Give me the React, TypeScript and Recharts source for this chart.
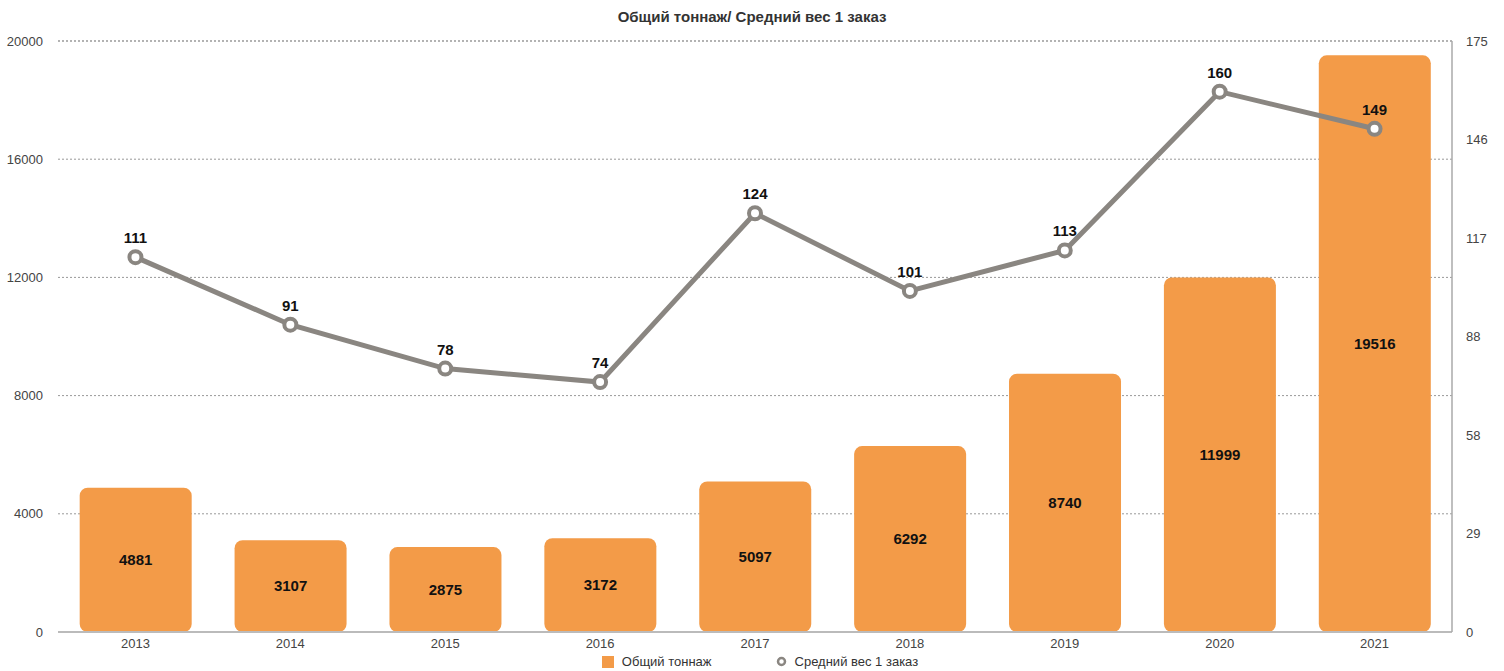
import { Bar, CartesianGrid, ComposedChart, LabelList, Legend, Line, ReferenceLine, XAxis, YAxis } from 'recharts';

const years = ['2013', '2014', '2015', '2016', '2017', '2018', '2019', '2020', '2021'];
const totalTonnage = [4881, 3107, 2875, 3172, 5097, 6292, 8740, 11999, 19516];
const avgOrderWeight = [111, 91, 78, 74, 124, 101, 113, 160, 149];
const leftTicks = [0, 4000, 8000, 12000, 16000, 20000];
const rightTicks = [0, 29.17, 58.33, 87.5, 116.67, 145.83, 175];

const TONNAGE_NAME = 'Общий тоннаж';
const WEIGHT_NAME = 'Средний вес 1 заказ';
const ORANGE = '#F39B48';
const GRAY = '#8A8681';
const FONT = 'Liberation Sans, Arial, sans-serif';

const data = years.map((year, i) => ({
  year,
  tonnage: totalTonnage[i],
  weight: avgOrderWeight[i],
}));

const AXIS_TICK = { fill: '#444', fontSize: 13, fontFamily: FONT };

function ChartLegend() {
  return (
    <div
      style={{
        height: 19,
        display: 'flex',
        justifyContent: 'center',
        alignItems: 'center',
        gap: 64,
        fontSize: 13,
        color: '#333',
        fontFamily: FONT,
        paddingLeft: 16,
      }}
    >
      <span style={{ display: 'flex', alignItems: 'center', gap: 8 }}>
        <span style={{ width: 12, height: 12, background: ORANGE, display: 'inline-block' }} />
        {TONNAGE_NAME}
      </span>
      <span style={{ display: 'flex', alignItems: 'center', gap: 8 }}>
        <svg width={11} height={11}>
          <circle cx={5.5} cy={5.5} r={3.5} fill="#fff" stroke={GRAY} strokeWidth={2.5} />
        </svg>
        {WEIGHT_NAME}
      </span>
    </div>
  );
}

export default function App() {
  return (
    <div style={{ position: 'fixed', top: 0, left: 0, width: 1504, height: 671, background: '#fff' }}>
      <div
        style={{
          position: 'absolute',
          top: 8,
          left: 0,
          width: 1504,
          textAlign: 'center',
          fontSize: 15,
          fontWeight: 'bold',
          color: '#333',
          fontFamily: FONT,
        }}
      >
        Общий тоннаж/ Средний вес 1 заказ
      </div>
      <ComposedChart
        width={1504}
        height={671}
        data={data}
        margin={{ top: 41, right: 0, bottom: 0, left: 0 }}
        barCategoryGap="14%"
      >
        <CartesianGrid vertical={false} stroke="#999" strokeDasharray="2 2" yAxisId="left" />
        <XAxis
          dataKey="year"
          height={20}
          tick={AXIS_TICK}
          tickLine={false}
          axisLine={{ stroke: '#bbb', strokeWidth: 2 }}
          tickSize={0}
          tickMargin={7}
        />
        <YAxis
          yAxisId="left"
          width={58}
          domain={[0, 20000]}
          ticks={leftTicks}
          tick={AXIS_TICK}
          tickLine={false}
          axisLine={false}
          tickSize={0}
          tickMargin={15}
        />
        <YAxis
          yAxisId="right"
          orientation="right"
          width={52}
          domain={[0, 175]}
          ticks={rightTicks}
          tickFormatter={(v: number) => String(Math.round(v))}
          tick={AXIS_TICK}
          tickLine={false}
          axisLine={{ stroke: '#aaa', strokeWidth: 1.5 }}
          tickSize={0}
          tickMargin={14}
        />
        <ReferenceLine yAxisId="left" y={20000} stroke="#999" strokeDasharray="2 2" />
        <Legend verticalAlign="bottom" height={19} content={() => <ChartLegend />} />
        <Bar
          yAxisId="left"
          dataKey="tonnage"
          name={TONNAGE_NAME}
          fill={ORANGE}
          radius={8}
          isAnimationActive={false}
        >
          <LabelList
            dataKey="tonnage"
            position="center"
            fill="#111"
            fontSize={15}
            fontWeight="bold"
            fontFamily={FONT}
          />
        </Bar>
        <Line
          yAxisId="right"
          dataKey="weight"
          name={WEIGHT_NAME}
          stroke={GRAY}
          strokeWidth={5}
          dot={{ r: 6, fill: '#fff', stroke: GRAY, strokeWidth: 4 }}
          activeDot={false}
          isAnimationActive={false}
        >
          <LabelList
            dataKey="weight"
            position="top"
            offset={14}
            fill="#111"
            fontSize={15}
            fontWeight="bold"
            fontFamily={FONT}
          />
        </Line>
      </ComposedChart>
    </div>
  );
}
